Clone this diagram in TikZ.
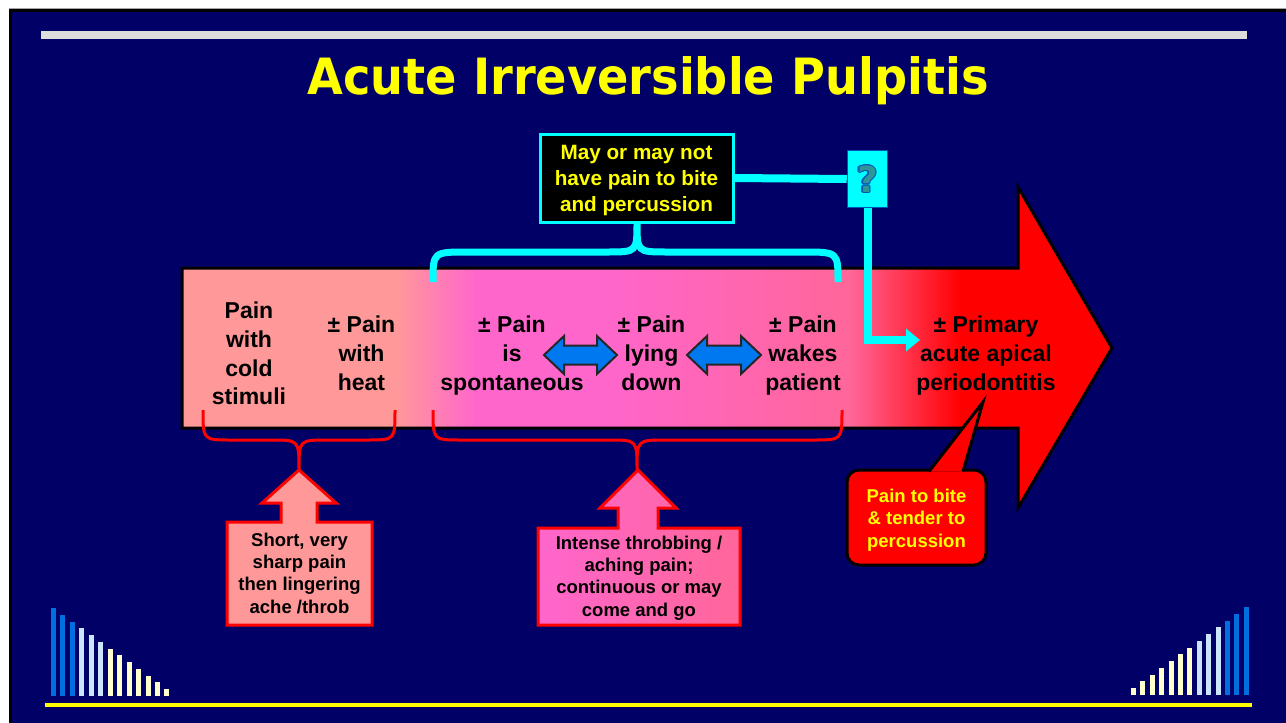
\documentclass[tikz,border=0pt]{standalone}
\usepackage{fontspec}
\setmainfont{Liberation Sans}
\newfontfamily\titlefont[FakeStretch=0.925]{DejaVu Sans Bold}
\newfontfamily\qfont{DejaVu Sans Bold}
\usetikzlibrary{shapes.arrows,arrows.meta}
\definecolor{navy}{HTML}{000066}
\definecolor{barblue}{HTML}{0070E0}
\definecolor{barlight}{HTML}{CCE5FF}
\definecolor{baryellow}{HTML}{FFFFCC}
\definecolor{bargray}{HTML}{DDDDDD}
\definecolor{salmon}{HTML}{FF9999}
\definecolor{pinkA}{HTML}{FF66CC}
\definecolor{pinkB}{HTML}{FF6699}
\definecolor{pred}{HTML}{FF0000}
\definecolor{cyanc}{HTML}{00FFFF}
\definecolor{yel}{HTML}{FFFF00}
\definecolor{arrowblue}{HTML}{0078F0}
\definecolor{qteal}{HTML}{2E9696}
\definecolor{qborder}{HTML}{0055BB}
\begin{document}
\begin{tikzpicture}[x=1pt,y=-1pt,
  lbl/.style={font=\fontsize{23}{28.7}\selectfont\bfseries, align=center, text depth=0pt, inner sep=0pt, text=black},
  calltext/.style={font=\fontsize{18.5}{22.4}\selectfont\bfseries, align=center, text depth=0pt, inner sep=0pt},
  darrow/.style={fill=arrowblue, draw=black!85, line width=2pt, line join=miter},
  cyanline/.style={draw=cyanc, line width=8pt},
  cbrace/.style={draw=cyanc, line width=7pt},
  rbrace/.style={draw=pred, line width=3pt},
  callout/.style={draw=pred, line width=3pt, line join=miter},
  qglyph/.style={inner sep=0pt, text depth=0pt, font=\qfont\fontsize{36}{40}\selectfont}
]
\useasboundingbox (0,0) rectangle (1286,723);
% slide background
\fill[white] (0,0) rectangle (1286,723);
\fill[gray!70] (9,7.5) rectangle (1286,9.5);
\fill[black] (9,9) rectangle (1286,723);
\fill[navy] (12,12) rectangle (1286,723);
% top grey bar
\fill[bargray] (41,31) rectangle (1247,38.5);
% bottom yellow line
\fill[yel] (45,703) rectangle (1252,706.5);
% left bars
\foreach \i in {0,1,2} \fill[barblue] ({51+9.45*\i},{608+6.75*\i}) rectangle ({56+9.45*\i},696);
\foreach \i in {3,4,5} \fill[barlight] ({51+9.45*\i},{608+6.75*\i}) rectangle ({56+9.45*\i},696);
\foreach \i in {6,...,12} \fill[baryellow] ({51+9.45*\i},{608+6.75*\i}) rectangle ({56+9.45*\i},696);
% right bars
\foreach \i in {0,...,6} \fill[baryellow] ({1131+9.4*\i},{688-6.75*\i}) rectangle ({1136+9.4*\i},695);
\foreach \i in {7,8,9} \fill[barlight] ({1131+9.4*\i},{688-6.75*\i}) rectangle ({1136+9.4*\i},695);
\foreach \i in {10,11,12} \fill[barblue] ({1131+9.4*\i},{688-6.75*\i}) rectangle ({1136+9.4*\i},695);
% title
\node[anchor=base, inner sep=0pt, text=yel, font=\titlefont\fontsize{50}{60}\selectfont] (title) at (648,94) {Acute Irreversible Pulpitis};
% big arrow
\begin{scope}
\clip (182,268) -- (1018,268) -- (1018,187) -- (1112,348) -- (1018,508) -- (1018,428) -- (182,428) -- cycle;
\fill[salmon] (170,180) rectangle (396,520);
\shade[left color=salmon,right color=pinkA] (395,180) rectangle (476,520);
\fill[pinkA] (475,180) rectangle (601,520);
\shade[left color=pinkA,right color=pinkB] (600,180) rectangle (851,520);
\shade[left color=pinkB,right color=pred] (850,180) rectangle (961,520);
\fill[pred] (960,180) rectangle (1120,520);
\end{scope}
\draw[line width=3pt, line join=miter] (182,268) -- (1018,268) -- (1018,187) -- (1112,348) -- (1018,508) -- (1018,428) -- (182,428) -- cycle;
% cyan brace
\draw[cbrace] (433,282) .. controls (433,252) .. (468,252) -- (607,252) .. controls (637,252) .. (637,222)
  .. controls (637,252) .. (667,252) -- (803,252) .. controls (838,252) .. (838,282);
% red braces
\draw[rbrace] (203,410) .. controls (203,440) .. (231,440) -- (271,440) .. controls (299,440) .. (299,470)
  .. controls (299,440) .. (327,440) -- (367,440) .. controls (395,440) .. (395,410);
\draw[rbrace] (433,410) .. controls (433,440) .. (461,440) -- (609,440) .. controls (637,440) .. (637,470)
  .. controls (637,440) .. (665,440) -- (814,440) .. controls (842,440) .. (842,410);
% up-arrow callouts
\draw[callout, fill=salmon] (299,470) -- (336,503) -- (317,503) -- (317,522) -- (372,522) -- (372,625) -- (227,625) -- (227,522) -- (281,522) -- (281,503) -- (262,503) -- cycle;
\node[calltext] (c1) at (299.5,573) {Short, very\\sharp pain\\then lingering\\ache /throb};
\draw[callout, left color=pinkA, right color=pinkB] (638,470) -- (676,508) -- (658,508) -- (658,528) -- (740,528) -- (740,625) -- (538,625) -- (538,528) -- (618,528) -- (618,508) -- (600,508) -- cycle;
\node[calltext] (c2) at (639,576) {Intense throbbing /\\aching pain;\\continuous or may\\come and go};
% red bubble
\node[draw=black, fill=pred, line width=3pt, rounded corners=12pt, minimum width=139pt, minimum height=95pt, inner sep=0pt] (pb) at (916.5,517.5) {};
\filldraw[fill=pred, draw=black, line width=3pt, line join=miter] (929,471.5) -- (983,402) -- (963,471.5);
\node[calltext, text=yel] (pbt) at (916.5,518) {Pain to bite\\\& tender to\\percussion};
% main labels
\node[lbl] (l1) at (249,353.5) {Pain\\with\\cold\\stimuli};
\node[lbl] (l2) at (361.5,353) {± Pain\\with\\heat};
\node[lbl] (l3) at (512,353) {± Pain\\is\\spontaneous};
\node[lbl] (l4) at (651.5,353) {± Pain\\lying\\down};
\node[lbl] (l5) at (803,353) {± Pain\\wakes\\patient};
\node[lbl] (l6) at (986,353) {± Primary\\acute apical\\periodontitis};
% double arrows
\draw[darrow] (544,355) -- (564,336) -- (564,345.5) -- (597,345.5) -- (597,336) -- (617,355) -- (597,374) -- (597,364.5) -- (564,364.5) -- (564,374) -- cycle;
\draw[darrow] (687,355) -- (707,336) -- (707,345.5) -- (741,345.5) -- (741,336) -- (761,355) -- (741,374) -- (741,364.5) -- (707,364.5) -- (707,374) -- cycle;
% top box
\node[draw=cyanc, fill=black, line width=3pt, minimum width=193pt, minimum height=88pt, inner sep=0pt, text=yel, align=center, text depth=0pt, font=\fontsize{20.7}{26}\selectfont\bfseries] (mbox) at (636.5,178) {May or may not\\have pain to bite\\and percussion};
% question box
\node[draw=qborder, fill=cyanc, line width=1.5pt, minimum width=40pt, minimum height=57pt, inner sep=0pt] (q) at (867.5,179) {};
\foreach \dx/\dy in {-1.2/0,1.2/0,0/-1.2,0/1.2,-0.9/-0.9,0.9/0.9,-0.9/0.9,0.9/-0.9}
  \node[qglyph, text=qborder] at ([xshift=\dx pt, yshift=\dy pt]q.center) {?};
\node[qglyph, text=qteal] (qmark) at (q.center) {?};
\coordinate (qend) at (920,340);
\draw[cyanline] (mbox.east) -- (q.west);
\draw[cyanline, line join=miter, -{Triangle[length=14pt,width=22pt]}] (q.south) |- (qend);
\end{tikzpicture}
\end{document}
